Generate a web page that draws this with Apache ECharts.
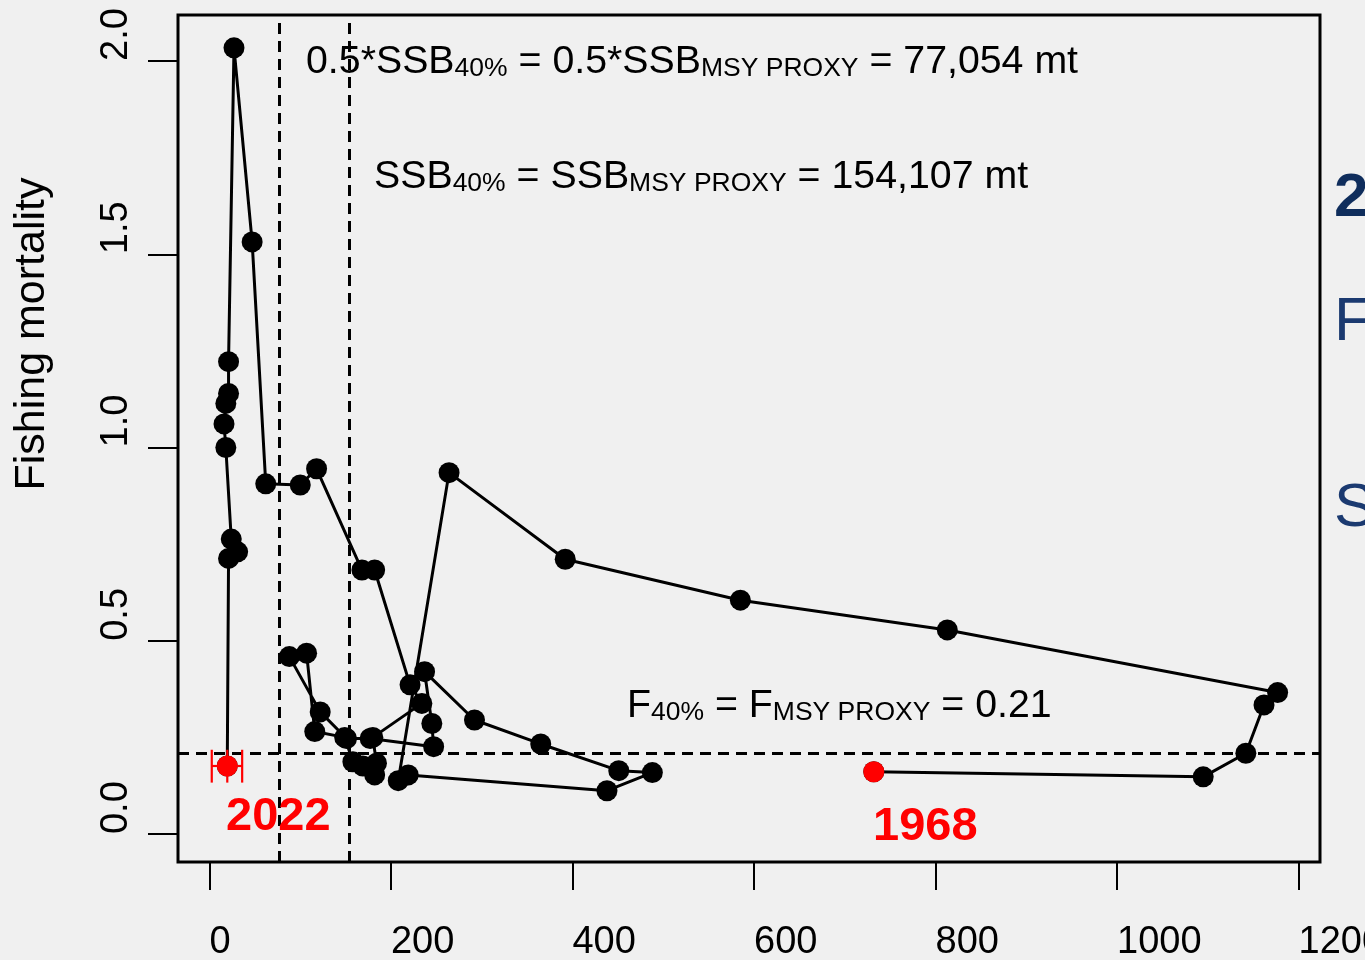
<!DOCTYPE html>
<html><head><meta charset="utf-8">
<script src="https://cdn.jsdelivr.net/npm/echarts@6/dist/echarts.min.js"></script>
<style>html,body{margin:0;padding:0;background:#f0f0f0;} #c{width:1365px;height:960px;}</style>
</head><body><div id="c"></div>
<script>
// SSB (thousand mt) and fishing mortality, in path (time) order 1968 -> 2022
const ssb = [732, 1095, 1142, 1162, 1177, 813, 585, 392, 264, 208, 219, 438, 488, 451, 365, 292, 237, 245, 247, 177, 151, 122, 88, 107, 116, 149, 158, 169, 182, 184, 180, 234, 221, 182, 168, 118, 100, 62, 47, 27, 21, 21, 18, 16, 18, 24, 31, 21, 19.6];
const fMort = [0.161, 0.148, 0.209, 0.334, 0.366, 0.528, 0.605, 0.711, 0.935, 0.138, 0.153, 0.112, 0.159, 0.164, 0.233, 0.295, 0.420, 0.286, 0.226, 0.247, 0.247, 0.316, 0.459, 0.468, 0.265, 0.250, 0.187, 0.176, 0.153, 0.183, 0.250, 0.338, 0.386, 0.683, 0.683, 0.945, 0.903, 0.906, 1.532, 2.034, 1.222, 1.140, 1.114, 1.061, 1.000, 0.763, 0.730, 0.713, 0.176];
const xTicks = [0, 200, 400, 600, 800, 1000, 1200];
const yTicks = [0, 0.5, 1, 1.5, 2];
const ssbHalfMsy = 77.054, ssbMsy = 154.107, fMsy = 0.21;
const firstYear = '1968', lastYear = '2022';
const lastErr = { ssbLo: 2.5, ssbHi: 36, fLo: 0.133, fHi: 0.218 };
const yTitle = 'Fishing mortality';

const FONT = "'Liberation Sans', Arial, sans-serif";
const chart = echarts.init(document.getElementById('c'), null, { renderer: 'canvas' });
const pathData = ssb.map((v, i) => [v, fMort[i]]);
const n = pathData.length;

const rich = {
  n: { fontSize: 39.3, lineHeight: 40, verticalAlign: 'bottom', fontFamily: FONT, fill: '#000', color: '#000' },
  s: { fontSize: 26.5, lineHeight: 13, verticalAlign: 'bottom', fontFamily: FONT, fill: '#000', color: '#000' }
};
function annot(x, y, text) {
  return { type: 'text', x: x, y: y, z: 50, style: { text: text, rich: rich, align: 'left', verticalAlign: 'top', fill: '#000' } };
}

const option = {
  backgroundColor: '#f0f0f0',
  animation: false,
  grid: { left: 178, top: 15, width: 1142, height: 847, containLabel: false, outerBoundsMode: 'none', show: true, borderColor: '#000', borderWidth: 3, backgroundColor: 'transparent' },
  xAxis: {
    type: 'value', min: -34.7, max: 1223.7,
    splitLine: { show: false },
    axisLine: { show: false, onZero: false },
    axisTick: { show: true, length: 28, lineStyle: { color: '#000', width: 2 }, customValues: xTicks },
    axisLabel: { customValues: xTicks, align: 'left', fontSize: 38, color: '#000', fontFamily: FONT, margin: 62, formatter: v => String(v), hideOverlap: false }
  },
  yAxis: {
    type: 'value', min: -0.0724, max: 2.119,
    splitLine: { show: false },
    axisLine: { show: false, onZero: false },
    axisTick: { show: true, length: 30, lineStyle: { color: '#000', width: 2 }, customValues: yTicks },
    axisLabel: { customValues: yTicks, rotate: 90, align: 'left', verticalAlign: 'bottom', fontSize: 38, color: '#000', fontFamily: FONT, margin: 42, formatter: v => v.toFixed(1) }
  },
  series: [
    {
      type: 'line', data: pathData, symbol: 'circle', symbolSize: 21, showAllSymbol: true,
      lineStyle: { color: '#000', width: 3 }, itemStyle: { color: '#000', opacity: 1 },
      markLine: {
        silent: true, symbol: ['none', 'none'], label: { show: false },
        lineStyle: { type: [11, 7], color: '#000', width: 3 },
        data: [{ xAxis: ssbHalfMsy }, { xAxis: ssbMsy }, { yAxis: fMsy }]
      }
    },
    {
      type: 'custom', z: 5,
      data: [[ssb[n - 1], fMort[n - 1], lastErr.ssbLo, lastErr.ssbHi, lastErr.fLo, lastErr.fHi]],
      renderItem: function (params, api) {
        const x = api.value(0), y = api.value(1);
        const l = api.coord([api.value(2), y]), r = api.coord([api.value(3), y]);
        const t = api.coord([x, api.value(5)]), b = api.coord([x, api.value(4)]);
        const st = { stroke: '#ff0000', lineWidth: 2.2 };
        return { type: 'group', children: [
          { type: 'line', shape: { x1: l[0], y1: l[1], x2: r[0], y2: r[1] }, style: st },
          { type: 'line', shape: { x1: t[0], y1: t[1], x2: b[0], y2: b[1] }, style: st },
          { type: 'line', shape: { x1: l[0], y1: t[1], x2: l[0], y2: b[1] }, style: st },
          { type: 'line', shape: { x1: r[0], y1: t[1], x2: r[0], y2: b[1] }, style: st }
        ] };
      }
    },
    {
      type: 'scatter', z: 6, symbol: 'circle', symbolSize: 21,
      itemStyle: { color: '#ff0000', opacity: 1 },
      data: [pathData[0], pathData[n - 1]]
    }
  ],
  graphic: [
    annot(306, 42, '{n|0.5*SSB}{s|40%}{n| = 0.5*SSB}{s|MSY PROXY}{n| = 77,054 mt}'),
    annot(374, 157, '{n|SSB}{s|40%}{n| = SSB}{s|MSY PROXY}{n| = 154,107 mt}'),
    annot(627, 686, '{n|F}{s|40%}{n| = F}{s|MSY PROXY}{n| = 0.21}'),
    { type: 'text', x: 226, y: 794, z: 50, style: { text: lastYear, fill: '#ff0000', font: 'bold 47px ' + FONT, align: 'left', verticalAlign: 'top' } },
    { type: 'text', x: 873, y: 804, z: 50, style: { text: firstYear, fill: '#ff0000', font: 'bold 47px ' + FONT, align: 'left', verticalAlign: 'top' } },
    { type: 'text', x: 32, y: 334, rotation: Math.PI / 2, z: 50, style: { text: yTitle, fill: '#000', font: '43px ' + FONT, align: 'center', verticalAlign: 'middle' } },
    { type: 'text', x: 1334, y: 168, z: 50, style: { text: '2', fill: '#0f2d5c', font: 'bold 62px ' + FONT, align: 'left', verticalAlign: 'top' } },
    { type: 'text', x: 1334, y: 292, z: 50, style: { text: 'F', fill: '#1b3a70', font: '62px ' + FONT, align: 'left', verticalAlign: 'top' } },
    { type: 'text', x: 1334, y: 478, z: 50, style: { text: 'S', fill: '#1b3a70', font: '62px ' + FONT, align: 'left', verticalAlign: 'top' } }
  ]
};
chart.setOption(option);
</script>
</body></html>
